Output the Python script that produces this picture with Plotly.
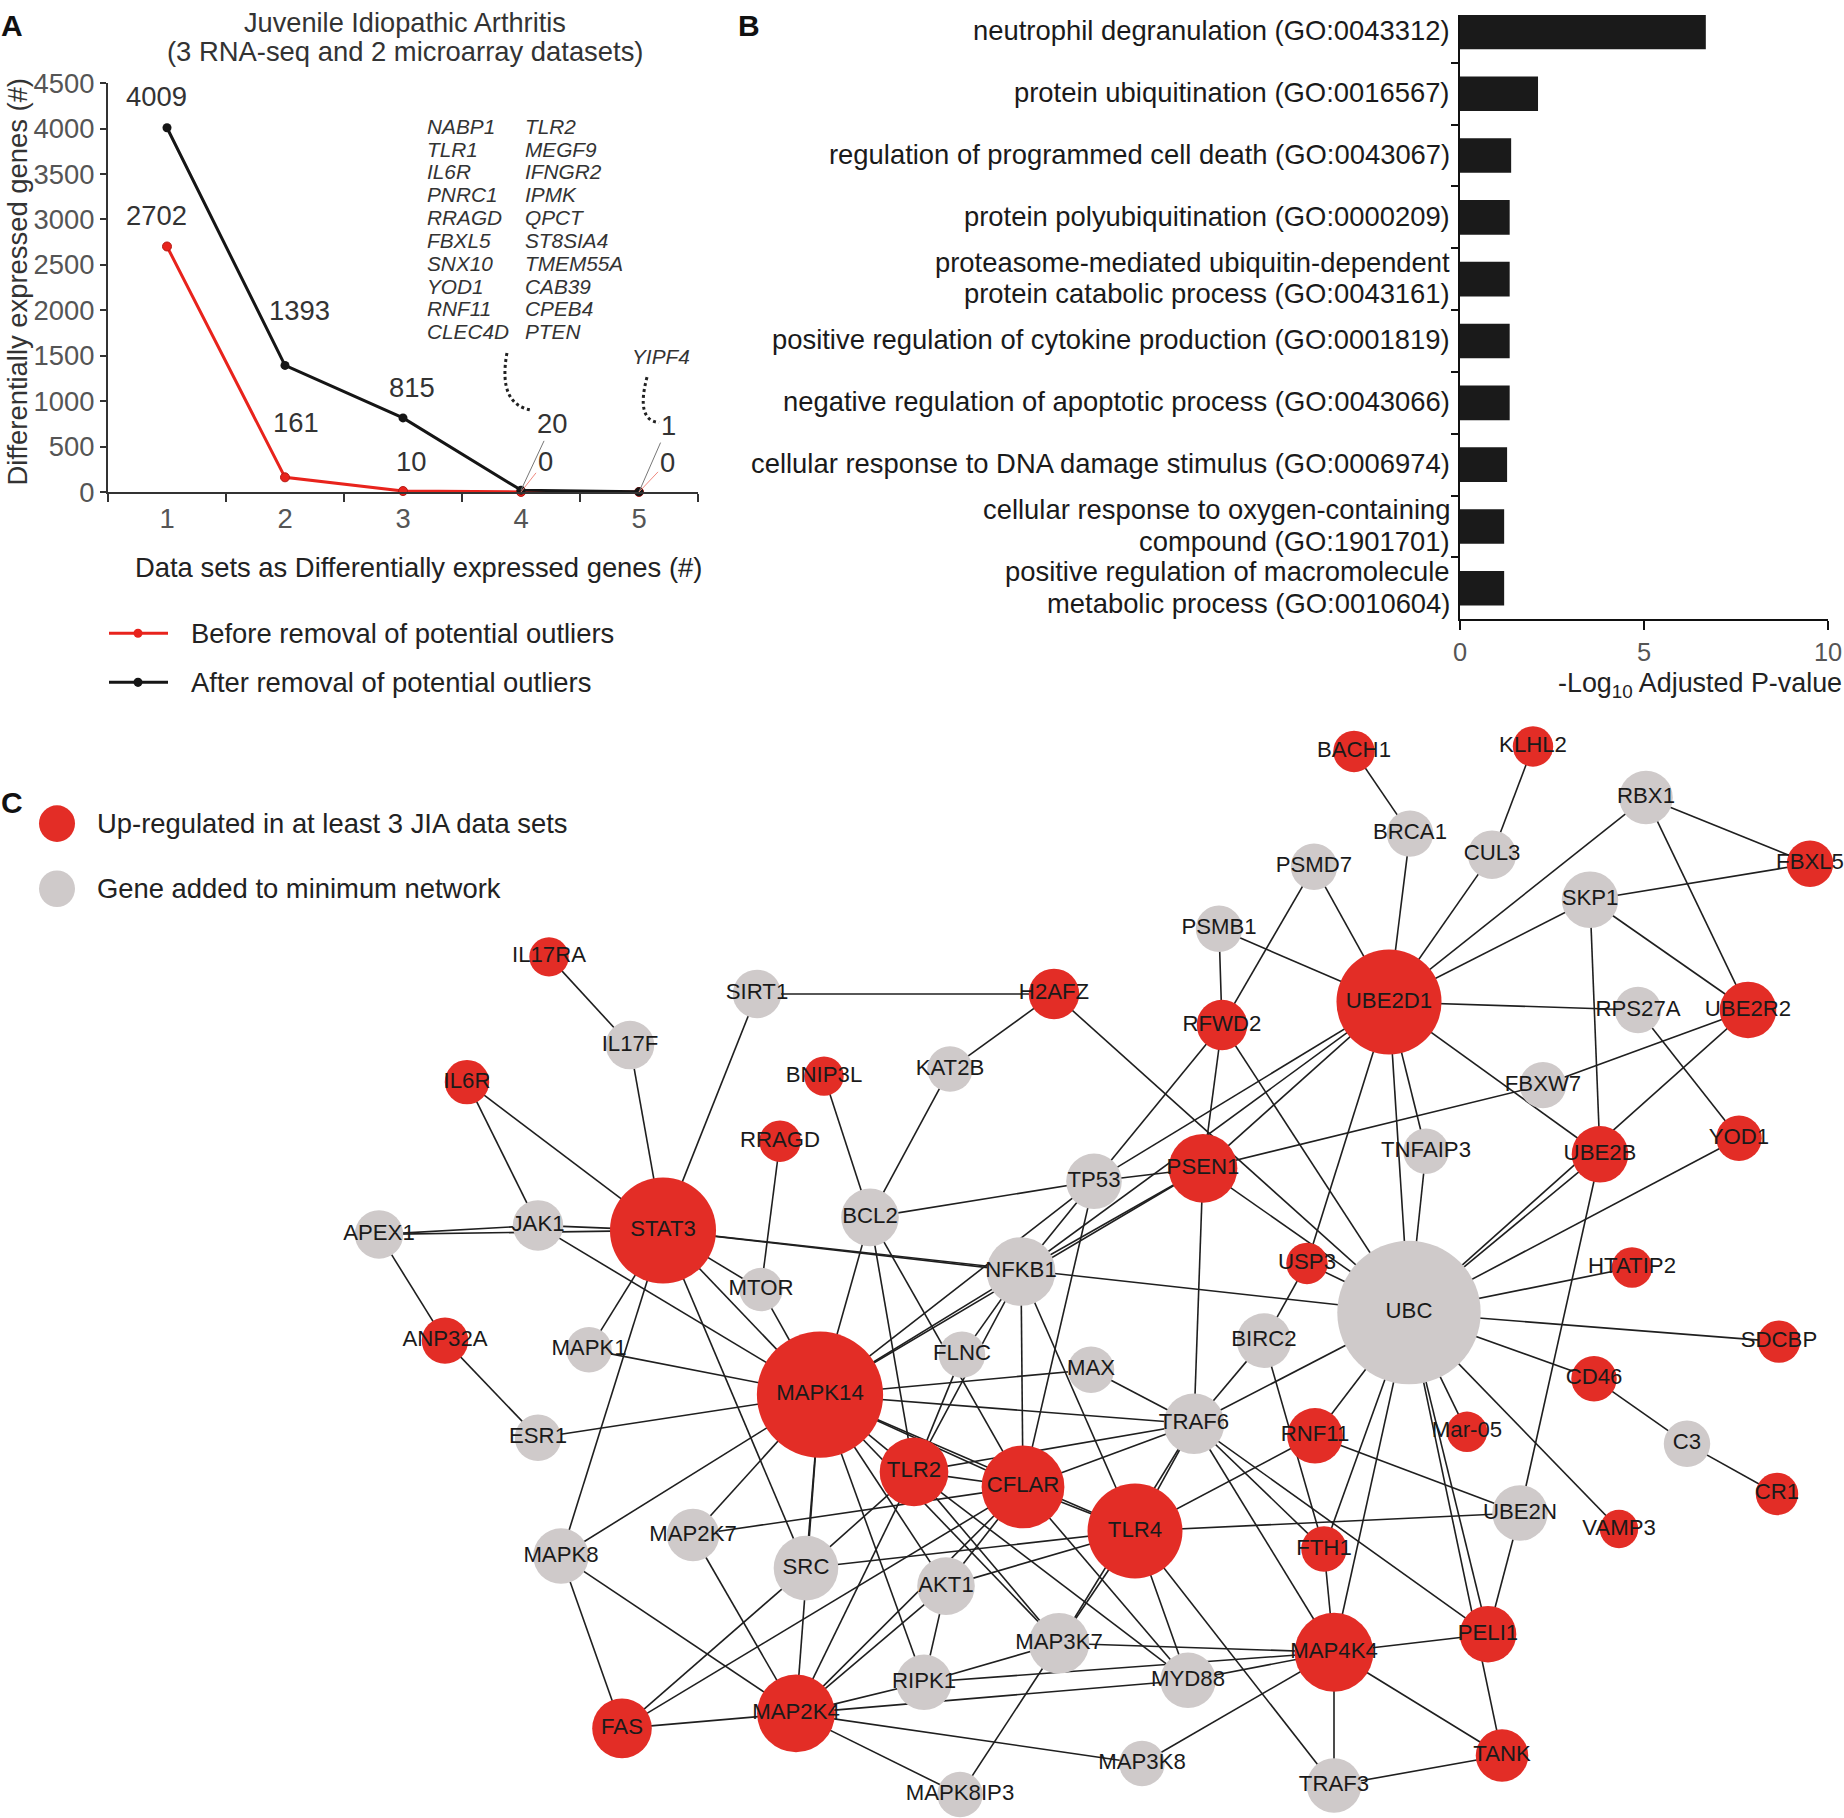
import plotly.graph_objects as go

W, H = 1844, 1818
FONT = "Liberation Sans, Arial, sans-serif"
DARK = "#1a1a1a"
RED = "#e32d26"
GRAY = "#cfcaca"

# Positions below are picture pixels; vertical ones are converted with the measured
# mapping of the photographed page (picture_y = AY + BY * paper_y).
AY, BY = 15.0, 0.981
MS = 1 / 0.99


def PX(x):
    return x / W


def PY(y):
    return 1 - ((y - AY) / BY) / H


# ---------------- Panel A data ----------------
datasets = [1, 2, 3, 4, 5]
before_removal = [2702, 161, 10, 0, 0]
after_removal = [4009, 1393, 815, 20, 1]
genes_col1 = ["NABP1", "TLR1", "IL6R", "PNRC1", "RRAGD", "FBXL5", "SNX10", "YOD1", "RNF11", "CLEC4D"]
genes_col2 = ["TLR2", "MEGF9", "IFNGR2", "IPMK", "QPCT", "ST8SIA4", "TMEM55A", "CAB39", "CPEB4", "PTEN"]
genes_five = ["YIPF4"]
series_names = ["Before removal of potential outliers", "After removal of potential outliers"]

# ---------------- Panel B data ----------------
go_terms = [
    "neutrophil degranulation (GO:0043312)",
    "protein ubiquitination (GO:0016567)",
    "regulation of programmed cell death (GO:0043067)",
    "protein polyubiquitination (GO:0000209)",
    "proteasome-mediated ubiquitin-dependent<br>protein catabolic process (GO:0043161)",
    "positive regulation of cytokine production (GO:0001819)",
    "negative regulation of apoptotic process (GO:0043066)",
    "cellular response to DNA damage stimulus (GO:0006974)",
    "cellular response to oxygen-containing<br>compound (GO:1901701)",
    "positive regulation of macromolecule<br>metabolic process (GO:0010604)",
]
neg_log10_p = [6.68, 2.12, 1.39, 1.35, 1.35, 1.35, 1.35, 1.28, 1.2, 1.2]
b_ticks = [0, 5, 10]

# ---------------- Panel C data (network layout) ----------------
node_names = ["IL17RA", "SIRT1", "IL17F", "IL6R", "BNIP3L", "RRAGD", "BCL2", "JAK1", "APEX1", "STAT3",
              "MTOR", "ANP32A", "MAPK1", "ESR1", "MAPK14", "MAPK8", "MAP2K7", "SRC", "FAS", "MAP2K4",
              "BACH1", "BRCA1", "PSMD7", "PSMB1", "H2AFZ", "RFWD2", "UBE2D1", "KAT2B", "TP53", "PSEN1",
              "TNFAIP3", "NFKB1", "USP3", "UBC", "BIRC2", "FLNC", "MAX", "TRAF6", "RNF11", "TLR2",
              "CFLAR", "TLR4", "FTH1", "AKT1", "MAP3K7", "RIPK1", "MYD88", "MAP4K4", "MAP3K8", "TRAF3",
              "MAPK8IP3", "KLHL2", "RBX1", "CUL3", "SKP1", "FBXL5", "RPS27A", "UBE2R2", "FBXW7", "UBE2B",
              "YOD1", "HTATIP2", "SDCBP", "CD46", "Mar-05", "C3", "CR1", "UBE2N", "VAMP3", "PELI1", "TANK"]
node_x = [549, 757, 630, 467, 824, 780, 870, 538, 379, 663,
          761, 445, 589, 538, 820, 561, 693, 806, 622, 796,
          1354, 1410, 1314, 1219, 1054, 1222, 1389, 950, 1094, 1203,
          1426, 1021, 1307, 1409, 1264, 962, 1091, 1194, 1315, 914,
          1023, 1135, 1324, 946, 1059, 924, 1188, 1334, 1142, 1334,
          960, 1533, 1646, 1492, 1590, 1810, 1638, 1748, 1543, 1600,
          1739, 1632, 1779, 1594, 1467, 1687, 1777, 1520, 1619, 1488, 1502]
node_y = [955, 992, 1043, 1080, 1074, 1139, 1215, 1223, 1232, 1228,
          1287, 1338, 1347, 1435, 1392, 1553, 1532, 1565, 1725, 1710,
          750, 832, 865, 927, 992, 1023, 1000, 1067, 1179, 1166,
          1149, 1269, 1261, 1310, 1338, 1352, 1367, 1421, 1433, 1469,
          1484, 1528, 1546, 1583, 1640, 1679, 1677, 1649, 1760, 1782,
          1791, 745, 796, 853, 898, 862, 1008, 1008, 1083, 1152,
          1136, 1265, 1339, 1376, 1429, 1441, 1491, 1510, 1526, 1631, 1752]
node_radius = [19.5, 24, 24, 22, 19.5, 20.5, 28.5, 25, 24, 52.5,
               21.5, 23, 22.5, 23, 62.5, 27.5, 26, 32, 29.5, 38.5,
               20.5, 23, 23, 23, 25, 25, 52, 22.5, 27.5, 34,
               22.5, 34, 20.5, 71, 27, 23, 23, 30, 27.5, 34,
               41, 47, 22.5, 28.5, 30, 27.5, 27.5, 39, 22.5, 27,
               22.5, 20, 26.5, 24, 28, 23, 23, 28, 23, 28,
               22.5, 20, 21, 22.5, 20, 23, 21, 27.5, 19, 28, 26]
node_upregulated = [1, 0, 0, 1, 1, 1, 0, 0, 0, 1,
                    0, 1, 0, 0, 1, 0, 0, 0, 1, 1,
                    1, 0, 0, 0, 1, 1, 1, 0, 0, 1,
                    0, 0, 1, 0, 0, 0, 0, 0, 1, 1,
                    1, 1, 1, 0, 0, 0, 0, 1, 0, 0,
                    0, 1, 0, 0, 0, 1, 0, 1, 0, 1,
                    1, 1, 1, 1, 1, 0, 1, 0, 1, 1, 1]
network_legend = ["Up-regulated in at least 3 JIA data sets", "Gene added to minimum network"]

edges = [
    ("IL17RA", "IL17F"), ("IL17F", "STAT3"), ("SIRT1", "STAT3"), ("SIRT1", "H2AFZ"),
    ("IL6R", "JAK1"), ("IL6R", "STAT3"), ("APEX1", "JAK1"), ("APEX1", "STAT3"), ("JAK1", "STAT3"),
    ("APEX1", "ANP32A"), ("ANP32A", "ESR1"), ("JAK1", "MAPK14"), ("BNIP3L", "BCL2"), ("RRAGD", "MTOR"),
    ("STAT3", "MTOR"), ("STAT3", "NFKB1"), ("STAT3", "UBC"), ("STAT3", "MAPK1"), ("STAT3", "MAPK8"),
    ("STAT3", "SRC"), ("STAT3", "MAPK14"), ("MTOR", "MAPK14"), ("MAPK1", "MAPK14"), ("ESR1", "MAPK14"),
    ("MAPK8", "MAPK14"), ("MAPK8", "MAP2K4"), ("MAPK8", "FAS"), ("MAP2K7", "MAPK14"), ("MAP2K7", "CFLAR"),
    ("MAP2K7", "MAP2K4"), ("MAPK14", "SRC"), ("MAPK14", "MAP2K4"), ("SRC", "FAS"), ("SRC", "TLR4"),
    ("SRC", "TLR2"), ("FAS", "MAP2K4"), ("FAS", "CFLAR"), ("MAP2K4", "RIPK1"), ("MAP2K4", "MYD88"),
    ("MAP2K4", "MAP3K8"), ("MAP2K4", "MAPK8IP3"), ("MAP2K4", "TLR2"), ("MAP2K4", "CFLAR"), ("MAP2K4", "AKT1"),
    ("MAPK14", "BCL2"), ("MAPK14", "NFKB1"), ("MAPK14", "TP53"), ("MAPK14", "PSEN1"), ("MAPK14", "MAX"),
    ("MAPK14", "TRAF6"), ("MAPK14", "TLR2"), ("MAPK14", "CFLAR"), ("MAPK14", "TLR4"), ("MAPK14", "AKT1"),
    ("MAPK14", "RIPK1"), ("MAPK14", "MAP3K7"),
    ("BCL2", "KAT2B"), ("BCL2", "TP53"), ("BCL2", "TLR2"), ("BCL2", "CFLAR"),
    ("H2AFZ", "KAT2B"), ("H2AFZ", "UBC"),
    ("RFWD2", "PSMB1"), ("RFWD2", "PSMD7"), ("RFWD2", "PSEN1"), ("RFWD2", "TP53"), ("RFWD2", "UBC"),
    ("PSMB1", "UBE2D1"), ("PSMD7", "UBE2D1"), ("BACH1", "BRCA1"), ("BRCA1", "UBE2D1"), ("KLHL2", "CUL3"),
    ("CUL3", "UBE2D1"), ("RBX1", "UBE2D1"), ("RBX1", "FBXL5"), ("RBX1", "UBE2R2"), ("SKP1", "UBE2D1"),
    ("SKP1", "FBXL5"), ("SKP1", "UBE2R2"), ("SKP1", "UBE2B"), ("UBE2D1", "RPS27A"), ("RPS27A", "YOD1"),
    ("UBE2D1", "UBE2B"), ("FBXW7", "UBE2R2"), ("FBXW7", "PSEN1"), ("UBE2R2", "UBC"), ("UBE2B", "UBC"),
    ("UBE2B", "UBE2N"), ("YOD1", "UBC"), ("UBE2D1", "TNFAIP3"), ("TNFAIP3", "UBC"), ("UBE2D1", "UBC"),
    ("UBE2D1", "TP53"), ("UBE2D1", "NFKB1"), ("UBE2D1", "PSEN1"), ("UBE2D1", "USP3"), ("USP3", "BIRC2"),
    ("USP3", "UBC"), ("TP53", "PSEN1"), ("TP53", "NFKB1"), ("TP53", "CFLAR"), ("PSEN1", "NFKB1"),
    ("PSEN1", "UBC"), ("PSEN1", "TRAF6"), ("NFKB1", "FLNC"), ("NFKB1", "CFLAR"), ("NFKB1", "TLR4"),
    ("NFKB1", "TLR2"), ("FLNC", "TLR2"), ("MAX", "TRAF6"), ("TRAF6", "CFLAR"), ("TRAF6", "TLR2"),
    ("TRAF6", "BIRC2"), ("TRAF6", "UBC"), ("TRAF6", "TLR4"), ("TRAF6", "MAP3K7"), ("TRAF6", "FTH1"),
    ("TRAF6", "MAP4K4"), ("TRAF6", "PELI1"), ("TLR2", "CFLAR"), ("TLR2", "MAP3K7"), ("TLR2", "MYD88"),
    ("CFLAR", "TLR4"), ("CFLAR", "AKT1"), ("CFLAR", "MYD88"), ("TLR4", "AKT1"), ("TLR4", "MAP3K7"),
    ("TLR4", "MYD88"), ("TLR4", "TRAF3"), ("TLR4", "RNF11"), ("TLR4", "UBE2N"), ("AKT1", "RIPK1"),
    ("RIPK1", "MAP3K7"), ("RIPK1", "MAP4K4"), ("MAP3K7", "MAP4K4"), ("MAP3K7", "MAPK8IP3"),
    ("MYD88", "MAP4K4"), ("MAP3K8", "MAP4K4"), ("TRAF3", "MAP4K4"), ("TRAF3", "TANK"),
    ("MAP4K4", "PELI1"), ("MAP4K4", "TANK"), ("MAP4K4", "UBC"), ("MAP4K4", "FTH1"), ("FTH1", "BIRC2"),
    ("FTH1", "UBC"), ("RNF11", "UBC"), ("RNF11", "UBE2N"), ("UBC", "Mar-05"), ("UBC", "PELI1"),
    ("UBC", "TANK"), ("UBC", "VAMP3"), ("UBC", "CD46"), ("CD46", "C3"), ("C3", "CR1"), ("UBC", "SDCBP"),
    ("UBC", "HTATIP2"), ("UBE2N", "PELI1"),
]

fig = go.Figure()
series_colors = ["#e8231c", "#151515"]

# ---------------- Panel A traces ----------------
fig.add_trace(go.Scatter(
    x=datasets, y=before_removal, mode="lines+markers", name=series_names[0],
    line=dict(color=series_colors[0], width=3),
    marker=dict(size=9, color=series_colors[0], line=dict(color="#b51a14", width=1)),
    xaxis="x", yaxis="y", showlegend=False, cliponaxis=False))
fig.add_trace(go.Scatter(
    x=datasets, y=after_removal, mode="lines+markers", name=series_names[1],
    line=dict(color=series_colors[1], width=3), marker=dict(size=9, color=series_colors[1]),
    xaxis="x", yaxis="y", showlegend=False, cliponaxis=False))

# ---------------- Panel B traces ----------------
fig.add_trace(go.Bar(
    x=neg_log10_p, y=go_terms, orientation="h", width=0.56, marker=dict(color=DARK, line=dict(width=0)),
    xaxis="x2", yaxis="y2", showlegend=False))

# ---------------- Panel C traces ----------------
idx = {n: i for i, n in enumerate(node_names)}
ex, ey = [], []
for a, b in edges:
    ex += [node_x[idx[a]], node_x[idx[b]], None]
    ey += [node_y[idx[a]], node_y[idx[b]], None]
fig.add_trace(go.Scatter(x=ex, y=ey, mode="lines", line=dict(color="#1f1f1f", width=1.6),
                         xaxis="x3", yaxis="y3", showlegend=False, hoverinfo="skip"))
fig.add_trace(go.Scatter(
    x=node_x, y=node_y, mode="markers+text", text=node_names, textposition="middle center",
    textfont=dict(family=FONT, size=22.2, color="#1a1a1a"),
    marker=dict(size=[MS * 2 * r for r in node_radius],
                color=[RED if u else GRAY for u in node_upregulated], line=dict(width=0), opacity=1),
    xaxis="x3", yaxis="y3", showlegend=False, cliponaxis=False))

annotations = []
shapes = []


def ann(text, x, y, size=27.4, color="#222", xanchor="center", yanchor="middle", **kw):
    d = dict(text=text, x=PX(x), y=PY(y), xref="paper", yref="paper", showarrow=False,
             xanchor=xanchor, yanchor=yanchor, font=dict(size=size, color=color))
    d.update(kw)
    annotations.append(d)


# Panel letters
for letter, x, y in [("A", 12, 25), ("B", 749, 25), ("C", 12, 801)]:
    ann("<b>%s</b>" % letter, x, y, size=30, color="#111")

# Panel A titles
ann("Juvenile Idiopathic Arthritis", 405, 22, size=27.2, color="#333")
ann("(3 RNA-seq and 2 microarray datasets)", 405, 51, color="#333")
ann("Differentially expressed genes (#)", 18, 281, color="#333", textangle=-90)
ann("Data sets as Differentially expressed genes (#)", 418, 566)

# Panel A data labels (offsets in picture pixels from the points)
after_off = [(-11, 31), (14, 54), (9, 30), None, None]
before_off = [(-11, 30), (11, 54), (8, 29), None, None]
for i, d in enumerate(datasets):
    for vals, offs in [(after_removal, after_off), (before_removal, before_off)]:
        if offs[i]:
            annotations.append(dict(text=str(vals[i]), x=d, y=vals[i], xref="x", yref="y",
                                    showarrow=False, xshift=offs[i][0], yshift=offs[i][1] / BY,
                                    xanchor="center", yanchor="middle", font=dict(size=27.4, color="#333")))
# labels with leader lines at 4 and 5 data sets
for i, (axo, ayo, bxo, byo) in zip([3, 4], [(31, -65, 24, -30), (29, -65, 28, -29)]):
    annotations.append(dict(text=str(after_removal[i]), x=datasets[i], y=after_removal[i], xref="x", yref="y",
                            showarrow=True, arrowhead=0, arrowwidth=1, arrowcolor="#777", ax=axo, ay=ayo / BY,
                            standoff=0, font=dict(size=27.4, color="#333")))
    annotations.append(dict(text=str(before_removal[i]), x=datasets[i], y=before_removal[i], xref="x", yref="y",
                            showarrow=True, arrowhead=0, arrowwidth=1, arrowcolor="#f08a80", ax=bxo,
                            ay=byo / BY, standoff=0, font=dict(size=27.4, color="#333")))

# Gene lists
for k, (g1, g2) in enumerate(zip(genes_col1, genes_col2)):
    yy = 126 + k * 22.8
    ann("<i>%s</i>" % g1, 425, yy, size=20.8, color="#333", xanchor="left")
    ann("<i>%s</i>" % g2, 523, yy, size=20.8, color="#333", xanchor="left")
ann("<i>%s</i>" % genes_five[0], 661, 356, size=20.8, color="#333")

# dotted brackets (in panel A data coordinates)
shapes.append(dict(type="path", xref="x", yref="y", path="M 3.881,1530 Q 3.80,953 4.10,898",
                   line=dict(color="#222", width=3, dash="dot")))
shapes.append(dict(type="path", xref="x", yref="y", path="M 5.068,1264 Q 4.97,787 5.17,765",
                   line=dict(color="#222", width=3, dash="dot")))

# Panel A legend (line + marker samples)
for (ly, col, txt) in [(632, series_colors[0], series_names[0]), (681, series_colors[1], series_names[1])]:
    shapes.append(dict(type="line", xref="paper", yref="paper", x0=PX(109), x1=PX(168), y0=PY(ly), y1=PY(ly),
                       line=dict(color=col, width=3)))
    shapes.append(dict(type="circle", xref="paper", yref="paper", xsizemode="pixel", ysizemode="pixel",
                       xanchor=PX(138), yanchor=PY(ly), x0=-4.5, x1=4.5, y0=-4.6, y1=4.6,
                       fillcolor=col, line=dict(width=0)))
    ann(txt, 189, ly, xanchor="left")

# Panel B category labels: right-aligned next to the axis, one annotation per text line
for term in go_terms:
    lines = term.split("<br>")
    offs = [0] if len(lines) == 1 else [15.5, -15.5]
    for ln, off in zip(lines, offs):
        annotations.append(dict(text=ln, x=PX(1452), xref="paper", y=term, yref="y2", yshift=(off + 1) / BY,
                                showarrow=False, xanchor="right", yanchor="middle",
                                font=dict(size=27.4, color="#1a1a1a")))

# Panel B x tick labels (drawn as text so the last one is not dropped at the page edge)
for t in b_ticks:
    annotations.append(dict(text=str(t), x=t, xref="x2", y=PY(651), yref="paper", showarrow=False,
                            xanchor="center", yanchor="middle", font=dict(size=25.4, color="#555")))

# Panel B x title
annotations.append(dict(text="-Log<sub>10</sub> Adjusted P-value", x=1.0, y=PY(684), xref="paper", yref="paper",
                        showarrow=False, xanchor="right", yanchor="middle", font=dict(size=26.9, color="#222")))

# Panel C legend
for (cy, col, txt) in [(822, RED, network_legend[0]), (887, GRAY, network_legend[1])]:
    shapes.append(dict(type="circle", xref="paper", yref="paper", xsizemode="pixel", ysizemode="pixel",
                       xanchor=PX(57), yanchor=PY(cy), x0=-18, x1=18, y0=-18.3, y1=18.3,
                       fillcolor=col, line=dict(width=0)))
    ann(txt, 95, cy, xanchor="left")

axis_common = dict(showgrid=False, zeroline=False, fixedrange=True)

# Panel B category range: picture y 1..618 spans the 10 categories
cat_top = (AY - 1) / 61.7 - 0.5

fig.update_layout(
    width=W, height=H, autosize=False,
    margin=dict(l=0, r=0, t=0, b=0, pad=0),
    paper_bgcolor="white", plot_bgcolor="rgba(0,0,0,0)",
    font=dict(family=FONT, color="#222"),
    showlegend=False,
    xaxis=dict(domain=[PX(108), PX(698)], range=[0.5, 5.5], anchor="y", tickvals=datasets, ticks="",
               showline=True, linecolor="#333", linewidth=2, tickfont=dict(size=27.4, color="#555"),
               minor=dict(tickvals=[0.5, 1.5, 2.5, 3.5, 4.5, 5.5], ticks="outside", ticklen=8,
                          tickwidth=2, tickcolor="#333"),
               ticklabelstandoff=1, **axis_common),
    yaxis=dict(domain=[PY(491), PY(83)], range=[0, 4500], anchor="x", tickvals=list(range(0, 4501, 500)),
               ticks="outside", ticklen=6, tickwidth=2, tickcolor="#333", showline=True, linecolor="#333",
               linewidth=2, tickfont=dict(size=27.4, color="#555"), ticklabelstandoff=0, **axis_common),
    xaxis2=dict(domain=[PX(1460), PX(1828)], range=[0, 10], anchor="y2", tickvals=b_ticks,
                showticklabels=False, ticks="outside", ticklen=9, tickwidth=2, tickcolor="#111",
                showline=True, linecolor="#111", linewidth=2, **axis_common),
    yaxis2=dict(domain=[PY(618), 1.0], anchor="x2", type="category", range=[9.5, cat_top], ticks="outside",
                tickson="boundaries", ticklen=7, tickwidth=2, tickcolor="#111", showline=True, linecolor="#111",
                linewidth=2, showticklabels=False, **axis_common),
    xaxis3=dict(domain=[0, 1], range=[0, W], anchor="y3", visible=False, **axis_common),
    yaxis3=dict(domain=[0, 1], range=[AY + H * BY, AY], anchor="x3", visible=False, **axis_common),
    annotations=annotations,
    shapes=shapes,
)

fig.write_html(
    "out.html",
    config={"displayModeBar": False, "staticPlot": True},
    post_script=("document.documentElement.style.margin='0';document.body.style.margin='0';"
                 "document.body.style.padding='0';document.body.style.overflow='hidden';"),
)
